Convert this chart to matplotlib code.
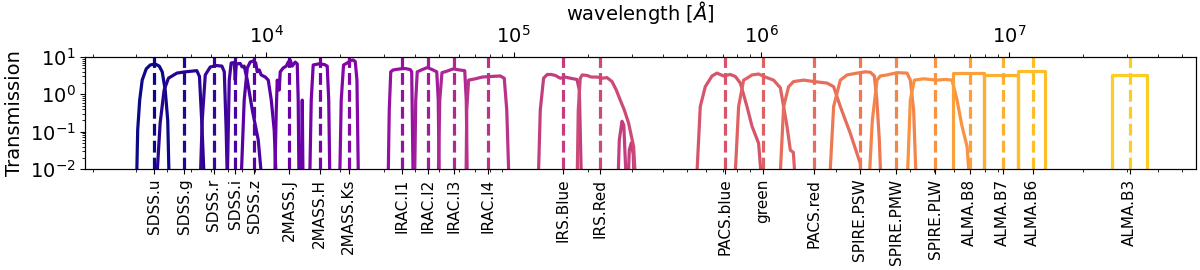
import matplotlib
matplotlib.use('Agg')
import matplotlib.pyplot as plt
import numpy as np

# floor value, below the plotted range
lo = 1e-3

# filter names and effective wavelengths [micron]
names = ['SDSS.u', 'SDSS.g', 'SDSS.r', 'SDSS.i', 'SDSS.z', '2MASS.J', '2MASS.H', '2MASS.Ks',
         'IRAC.I1', 'IRAC.I2', 'IRAC.I3', 'IRAC.I4', 'IRS.Blue', 'IRS.Red',
         'PACS.blue', 'green', 'PACS.red', 'SPIRE.PSW', 'SPIRE.PMW', 'SPIRE.PLW',
         'ALMA.B8', 'ALMA.B7', 'ALMA.B6', 'ALMA.B3']
centers = [0.354, 0.469, 0.617, 0.751, 0.897, 1.239, 1.648, 2.161,
           3.55, 4.493, 5.736, 7.91, 15.88, 22.4,
           71.4, 101.3, 163.9, 249.7, 350.3, 504.9,
           694.6, 944.0, 1248.0, 3075.0]

# transmission curves, wavelength in micron
u_wl = [0.299, 0.3035, 0.3092, 0.3165, 0.3286, 0.341, 0.357, 0.3708, 0.3813, 0.392, 0.4013, 0.4088]
u_tr = [lo, 0.11, 0.7, 2.4, 4.8, 6.1, 6.5, 5.7, 4.0, 1.3, 0.2, lo]

g_wl = [0.357, 0.374, 0.388, 0.404, 0.437, 0.472, 0.526, 0.539, 0.551, 0.569]
g_tr = [lo, 0.17, 1.3, 2.7, 3.7, 4.0, 4.3, 3.0, 0.17, lo]

r_wl = [0.539, 0.553, 0.569, 0.596, 0.630, 0.664, 0.679, 0.691, 0.702]
r_tr = [lo, 0.2, 3.3, 5.4, 5.9, 5.7, 4.0, 0.11, lo]

i_wl = [0.695, 0.711, 0.724, 0.745, 0.752, 0.759, 0.787, 0.802, 0.817, 0.841, 0.881, 0.931, 0.984]
i_tr = [lo, 2.4, 6.9, 7.1, 2.4, 6.5, 6.7, 5.4, 5.7, 2.4, 0.38, 0.06, lo]

z_wl = [0.787, 0.817, 0.841, 0.864, 0.889, 0.910, 0.922, 0.940, 0.957, 0.994, 1.022, 1.051, 1.080, 1.111]
z_tr = [lo, 0.7, 5.1, 7.3, 7.8, 6.9, 4.0, 4.5, 3.3, 2.9, 2.4, 0.7, 0.11, lo]

j_wl = [1.080, 1.101, 1.111, 1.132, 1.142, 1.175, 1.208, 1.231, 1.253, 1.277, 1.313, 1.338,
        1.350, 1.363, 1.389, 1.402, 1.415]
j_tr = [lo, 0.38, 2.4, 1.3, 4.0, 5.1, 5.7, 7.3, 8.3, 5.7, 7.3, 6.5, 0.7, lo, lo, 0.7, lo]

h_wl = [1.496, 1.524, 1.552, 1.626, 1.720, 1.768, 1.793, 1.818]
h_tr = [lo, 0.7, 6.1, 6.5, 6.3, 5.7, 0.7, lo]

ks_wl = [1.977, 2.014, 2.058, 2.130, 2.190, 2.252, 2.295, 2.331, 2.371]
ks_tr = [lo, 0.7, 6.1, 6.9, 8.0, 8.3, 7.5, 2.4, lo]

i1_wl = [3.104, 3.148, 3.192, 3.267, 3.486, 3.652, 3.825, 3.879, 3.944]
i1_tr = [lo, 0.38, 4.0, 4.5, 4.8, 4.9, 4.6, 4.0, lo]

i2_wl = [3.972, 4.027, 4.084, 4.278, 4.482, 4.695, 4.896, 4.965, 5.025]
i2_tr = [lo, 0.7, 4.0, 4.6, 5.2, 4.6, 4.0, 0.7, lo]

i3_wl = [4.943, 5.035, 5.139, 5.399, 5.706, 6.033, 6.350, 6.442, 6.520]
i3_tr = [lo, 0.7, 3.8, 4.2, 4.8, 4.5, 4.3, 0.7, lo]

i4_wl = [6.412, 6.471, 6.582, 7.003, 7.474, 8.053, 8.837, 9.171, 9.387, 9.654]
i4_tr = [lo, 0.38, 2.4, 2.6, 2.9, 3.0, 3.1, 2.7, 0.38, lo]

irsb_wl = [12.50, 12.82, 13.22, 13.68, 14.20, 14.74, 15.44, 16.17, 16.94, 18.04, 18.43, 18.89,
           26.23, 26.73, 27.41, 27.87, 28.79, 29.33, 29.88, 30.44, 30.87]
irsb_tr = [lo, 0.38, 2.7, 3.4, 3.4, 3.2, 2.7, 2.9, 2.7, 2.5, 1.3, lo,
           lo, 0.06, 0.19, 0.15, lo, 0.032, 0.05, 0.024, lo]

irsr_wl = [18.00, 18.25, 18.59, 18.94, 19.79, 20.60, 21.72, 22.82, 23.84, 24.97, 25.99, 26.97,
           28.00, 29.14, 30.53, 31.51]
irsr_tr = [lo, 0.38, 2.7, 3.3, 3.2, 2.9, 2.9, 2.7, 2.8, 2.2, 1.3, 0.7, 0.38, 0.17, 0.04, lo]

pb_wl = [54.18, 56.75, 59.45, 63.28, 66.30, 70.48, 75.04, 78.62, 82.36, 87.62, 91.80, 97.61, 102.2]
pb_tr = [lo, 0.47, 1.6, 3.1, 3.7, 3.1, 3.4, 3.0, 2.0, 0.47, 0.14, 0.049, lo]

pg_wl = [77.37, 81.06, 84.92, 87.62, 91.80, 97.61, 103.9, 112.2, 119.5, 127.1, 131.1, 134.8, 139.5]
pg_tr = [lo, 0.47, 2.4, 2.7, 3.3, 3.5, 2.9, 2.4, 1.5, 0.14, 0.032, 0.028, lo]

pr_wl = [117.6, 123.2, 129.0, 135.2, 148.4, 162.8, 184.5, 196.1, 208.7, 229.0, 251.3, 255.3]
pr_tr = [lo, 0.47, 1.6, 2.2, 2.4, 2.2, 2.0, 1.6, 0.47, 0.09, 0.014, lo]

psw_wl = [186.6, 196.1, 208.7, 222.1, 243.7, 263.3, 275.9, 286.3, 293.1, 299.9, 307.0]
psw_tr = [lo, 0.47, 2.4, 3.3, 3.7, 4.0, 3.9, 3.1, 0.7, 0.06, lo]

pmw_wl = [269.5, 281.0, 293.6, 302.7, 322.2, 353.6, 388.0, 400.1, 412.6, 425.9]
pmw_tr = [lo, 0.2, 2.4, 3.1, 3.3, 3.8, 3.7, 2.4, 0.38, lo]

plw_wl = [385.5, 400.1, 415.3, 452.8, 512.9, 554.0, 589.7, 617.8, 647.1, 678.2, 705.7]
plw_tr = [lo, 0.7, 2.4, 2.6, 2.4, 2.5, 2.4, 0.7, 0.14, 0.04, lo]

b8_wl = [595.0, 595.0, 796.0, 796.0]
b8_tr = [lo, 3.7, 3.7, lo]
b7_wl = [796.0, 796.0, 1092.0, 1092.0]
b7_tr = [lo, 3.2, 3.2, lo]
b6_wl = [1092.0, 1092.0, 1404.0, 1404.0]
b6_tr = [lo, 4.3, 4.3, lo]
b3_wl = [2611.0, 2611.0, 3615.0, 3615.0]
b3_tr = [lo, 3.2, 3.2, lo]

curves = [(u_wl, u_tr), (g_wl, g_tr), (r_wl, r_tr), (i_wl, i_tr), (z_wl, z_tr),
          (j_wl, j_tr), (h_wl, h_tr), (ks_wl, ks_tr),
          (i1_wl, i1_tr), (i2_wl, i2_tr), (i3_wl, i3_tr), (i4_wl, i4_tr),
          (irsb_wl, irsb_tr), (irsr_wl, irsr_tr),
          (pb_wl, pb_tr), (pg_wl, pg_tr), (pr_wl, pr_tr),
          (psw_wl, psw_tr), (pmw_wl, pmw_tr), (plw_wl, plw_tr),
          (b8_wl, b8_tr), (b7_wl, b7_tr), (b6_wl, b6_tr), (b3_wl, b3_tr)]


def plot_filters():
    colors = plt.cm.plasma(np.linspace(0, 0.9, len(names)))
    fig, ax = plt.subplots(figsize=(12, 2.7), dpi=100)
    fig.subplots_adjust(left=0.071, right=0.997, top=0.789, bottom=0.374)

    for (wl, tr), c0, col in zip(curves, centers, colors):
        ax.plot(np.array(wl) * 1e4, tr, color=col, lw=2.3)
        ax.axvline(c0 * 1e4, color=col, ls='--', lw=2.3)

    ax.set_xscale('log')
    ax.set_yscale('log')
    xlim = (1.863e3, 5.72e7)
    ax.set_xlim(xlim)
    ax.set_ylim(1e-2, 1e1)
    ax.set_xticks(np.array(centers) * 1e4)
    ax.set_xticklabels(names, rotation=90, fontsize=11)
    ax.tick_params(axis='y', labelsize=14)
    ax.set_ylabel('Transmission', fontsize=14)

    top = ax.twiny()
    top.set_xscale('log')
    top.set_xlim(xlim)
    top.tick_params(axis='x', labelsize=14)
    top.set_xlabel(r'wavelength [$\AA$]', fontsize=14)

    fig.savefig('out.png', dpi=100)


if __name__ == '__main__':
    plot_filters()
